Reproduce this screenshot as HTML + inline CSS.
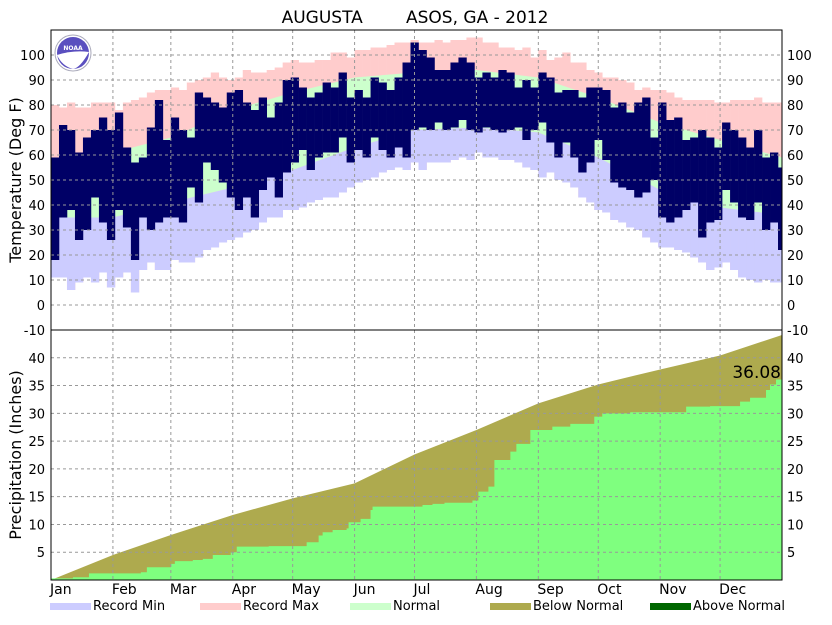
<!DOCTYPE html>
<html><head><meta charset="utf-8">
<style>
body{margin:0;background:#fff;}
svg text{font-family:"DejaVu Sans","Liberation Sans",sans-serif;}
</style></head>
<body>
<svg id="chart" width="832" height="620" viewBox="0 0 832 620" xmlns="http://www.w3.org/2000/svg">
<rect x="0" y="0" width="832" height="620" fill="#fff"/>
<text x="415" y="23" font-size="17" text-anchor="middle" xml:space="preserve">AUGUSTA        ASOS, GA - 2012</text>
<g id="temp"></g>
<g id="prcp"></g>
<g id="grid"></g>
<g id="axes"></g>
<g>
<circle cx="73" cy="53" r="18" fill="#fff" stroke="#aab" stroke-width="1"/>
<circle cx="73" cy="53" r="16" fill="#5a4fbf"/>
<path d="M57 55 Q73 50 89 52 Q80 68 73 69 Q62 66 57 55Z" fill="#fff"/>
<text x="73" y="50" font-size="6" fill="#fff" text-anchor="middle" font-weight="bold">NOAA</text>
</g>
<text transform="translate(21,180) rotate(-90)" font-size="16" text-anchor="middle">Temperature (Deg F)</text>
<text transform="translate(21,455) rotate(-90)" font-size="16" text-anchor="middle">Precipitation (Inches)</text>
<text x="781" y="378" font-size="17" text-anchor="end">36.08</text>
<g font-size="13">
<g><rect x="50" y="603" width="41" height="7" fill="#ccccff"/><text x="93" y="610">Record Min</text></g>
<g><rect x="200" y="603" width="41" height="7" fill="#ffcccc"/><text x="243" y="610">Record Max</text></g>
<g><rect x="350" y="603" width="41" height="7" fill="#ccffcc"/><text x="393" y="610">Normal</text></g>
<g><rect x="490" y="603" width="41" height="7" fill="#aeaa4e"/><text x="533" y="610">Below Normal</text></g>
<g><rect x="650" y="603" width="41" height="7" fill="#006600"/><text x="693" y="610">Above Normal</text></g>
</g>
</svg>
<script>
const months=["Jan","Feb","Mar","Apr","May","Jun","Jul","Aug","Sep","Oct","Nov","Dec"];
const monthStartDays=[0,31,60,91,121,152,182,213,244,274,305,335,366];
const normHigh=[58,61,67,78,85,91,93,94,91,83,73,66,59];
const normLow=[35,35,41,47,54,63,70,71,69,59,46,39,36];
const recMax=[80,79,81,79,79,81,81,81,78,81,82,83,85,86,86,87,86,89,90,91,93,91,90,91,94,93,93,94,95,97,98,97,97,98,98,101,101,99,102,102,103,103,104,105,105,106,105,105,106,105,106,106,107,107,105,105,103,103,102,103,99,102,98,99,101,97,97,94,93,91,91,90,89,86,87,86,86,85,83,82,82,82,82,81,81,82,82,82,83,81,81,81];
const recMin=[11,11,6,9,11,9,13,7,11,13,5,14,17,14,14,18,17,17,19,22,23,25,26,27,29,30,33,35,35,38,38,39,41,42,43,43,45,47,49,50,51,53,54,55,54,57,54,57,57,57,58,59,58,61,59,59,58,58,57,55,54,51,53,50,49,47,43,41,38,37,34,33,31,30,27,25,23,23,22,21,19,17,14,15,17,14,11,10,9,10,9,9];
const actHigh=[59,72,70,61,67,70,75,70,77,63,57,59,71,82,66,75,70,67,85,83,81,79,85,86,81,78,83,75,81,90,91,87,83,85,89,87,93,83,86,83,91,89,86,91,97,105,102,99,94,94,97,99,97,91,93,91,94,93,87,90,87,93,91,85,86,86,83,87,87,86,79,81,77,81,83,67,81,74,75,66,67,70,67,63,73,70,67,63,70,59,61,55];
const actLow=[18,35,38,26,30,43,33,26,38,31,18,35,30,33,35,35,33,47,41,57,54,49,43,38,43,35,46,51,43,53,57,62,54,59,61,61,67,57,62,59,67,62,59,63,59,70,71,70,73,70,71,74,70,69,71,70,69,70,71,66,70,73,65,59,65,59,53,57,66,58,49,47,46,43,45,50,35,33,35,38,41,27,33,34,46,41,35,34,41,30,33,22];
const normPrecip=[0,4.5,8.1,11.7,14.7,17.4,22.6,27.0,31.8,35.2,37.9,40.4,44.1];
const precipDays=[0,11,19,45,48,60,62,71,76,81,90,93,109,128,134,136,141,148,149,155,160,161,186,191,197,211,214,219,222,230,233,240,251,260,272,276,290,318,330,345,350,358,360,363];
const precipTotals=[0.3,0.5,1.2,1.4,2.3,2.9,3.4,3.6,3.8,4.5,5.0,6.0,6.1,6.8,8.0,8.6,9.0,9.3,10.4,11.0,12.6,13.2,13.5,13.7,13.9,14.3,15.9,16.8,21.6,23.1,24.5,27.0,27.6,28.1,29.4,30.0,30.2,31.2,31.3,32.1,32.8,34.2,35.2,36.08];

const NS="http://www.w3.org/2000/svg";
const X0=51,X1=782,DAYS=366;
function xs(d){return X0+d*(X1-X0)/DAYS;}
function ty(t){return 305-t*2.5;}
function py(p){return 580-p*250/45;}
const BIN=4;
function mk(tag,attrs,parent){const e=document.createElementNS(NS,tag);for(const k in attrs)e.setAttribute(k,attrs[k]);parent.appendChild(e);return e;}
const temp=document.getElementById('temp'),prcp=document.getElementById('prcp'),grid=document.getElementById('grid'),axes=document.getElementById('axes'),svg=document.getElementById('chart');

const defs=mk('defs',{},svg);
const cp=mk('clipPath',{id:'belowNormLow'},defs);
let cpts=monthStartDays.map((d,i)=>xs(d)+','+ty(normLow[i]));
cpts.push(xs(366)+',330',xs(0)+',330');
mk('polygon',{points:cpts.join(' ')},cp);

for(let i=0;i<recMax.length;i++){
  const x=xs(i*BIN),w=xs(Math.min((i+1)*BIN,DAYS))-x;
  const r=mk('rect',{x:x,y:ty(recMax[i]),width:w+0.3,height:ty(recMin[i])-ty(recMax[i]),fill:'#ffcccc'},temp);
  
  
}
let np=monthStartDays.map((d,i)=>xs(d)+','+ty(normHigh[i]));
for(let i=monthStartDays.length-1;i>=0;i--)np.push(xs(monthStartDays[i])+','+ty(normLow[i]));
const nb=mk('polygon',{points:np.join(' '),fill:'#ccffcc'},temp);


const lg=mk('g',{'clip-path':'url(#belowNormLow)'},temp);
for(let i=0;i<recMin.length;i++){
  const x=xs(i*BIN),w=xs(Math.min((i+1)*BIN,DAYS))-x;
  const r=mk('rect',{x:x,y:ty(recMax[i]),width:w+0.3,height:ty(recMin[i])-ty(recMax[i]),fill:'#ccccff'},lg);
  
  
}
for(let i=0;i<actHigh.length;i++){
  const x=xs(i*BIN),w=xs(Math.min((i+1)*BIN,DAYS))-x;
  const r=mk('rect',{x:x,y:ty(actHigh[i]),width:w+0.3,height:ty(actLow[i])-ty(actHigh[i]),fill:'#000066'},temp);
  
  
}
let pp=monthStartDays.map((d,i)=>xs(d)+','+py(normPrecip[i]));
pp.push(xs(366)+','+py(0),xs(0)+','+py(0));
const pa=mk('polygon',{points:pp.join(' '),fill:'#aeaa4e'},prcp);


let ap=[xs(0)+','+py(0)];
for(let i=0;i<precipDays.length;i++){
  const prev=i?precipTotals[i-1]:0;
  ap.push(xs(precipDays[i])+','+py(prev),xs(precipDays[i])+','+py(precipTotals[i]));
}
ap.push(xs(366)+','+py(precipTotals[precipTotals.length-1]),xs(366)+','+py(0));
const aa=mk('polygon',{points:ap.join(' '),fill:'#7fff7f'},prcp);



const gs={stroke:'#999','stroke-width':1,'stroke-dasharray':'3,3'};
for(let t=0;t<=100;t+=10){const l=mk('line',Object.assign({x1:X0,x2:X1,y1:ty(t),y2:ty(t)},gs),grid);}
for(let p=5;p<=40;p+=5){const l=mk('line',Object.assign({x1:X0,x2:X1,y1:py(p),y2:py(p)},gs),grid);}
for(let m=1;m<12;m++){const l=mk('line',Object.assign({x1:xs(monthStartDays[m]),x2:xs(monthStartDays[m]),y1:30,y2:580},gs),grid);}

mk('rect',{x:X0,y:30,width:X1-X0,height:550,fill:'none',stroke:'#000','stroke-width':1},axes);
mk('line',{x1:X0,x2:X1,y1:330,y2:330,stroke:'#000','stroke-width':1},axes);
for(let t=-10;t<=100;t+=10){
  for(const side of [0,1]){
    const tx=mk('text',{x:side?787:45,y:ty(t)+5,'font-size':13,'text-anchor':side?'start':'end'},axes);
    tx.textContent=t;
    
    
  }
}
for(let p=5;p<=40;p+=5){
  for(const side of [0,1]){
    const tx=mk('text',{x:side?787:45,y:py(p)+5,'font-size':13,'text-anchor':side?'start':'end'},axes);
    tx.textContent=p;
    
    
  }
}
for(let m=0;m<12;m++){
  const tx=mk('text',{x:xs(monthStartDays[m])-1,y:594,'font-size':14},axes);
  tx.textContent=months[m];
  
  
}
</script>
</body></html>
